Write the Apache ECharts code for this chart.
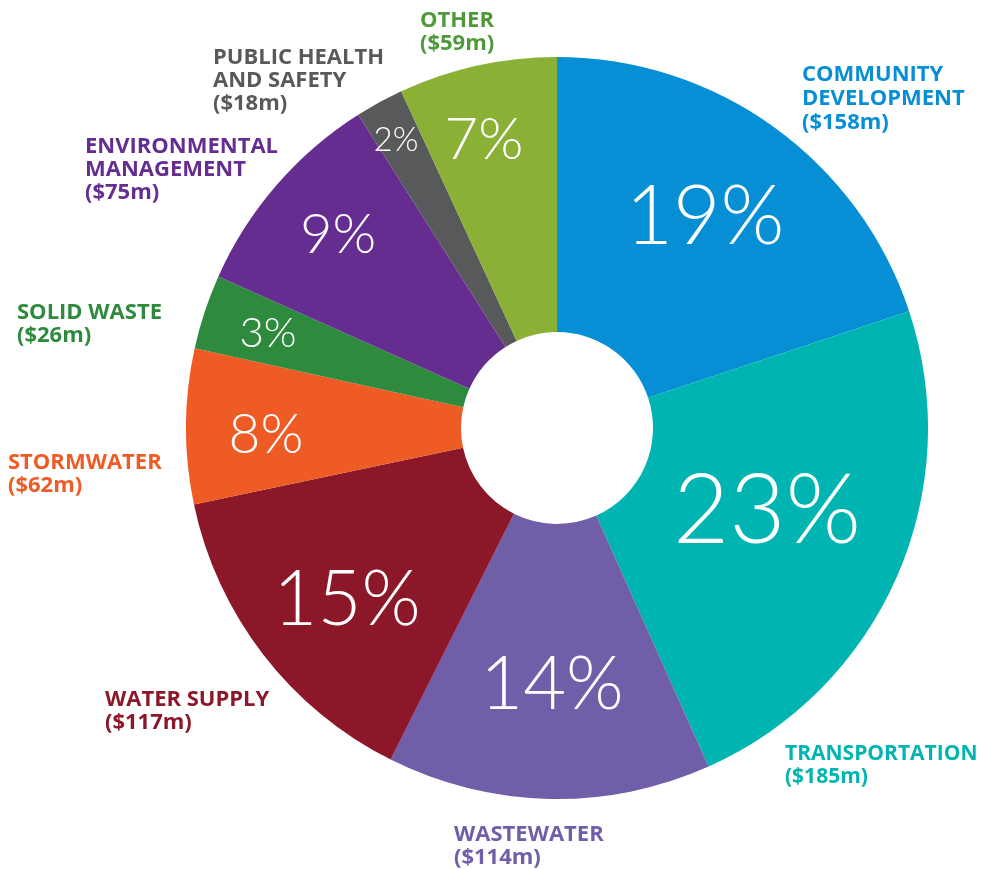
<!DOCTYPE html>
<html><head><meta charset="utf-8">
<script src="https://cdn.jsdelivr.net/npm/echarts@6/dist/echarts.min.js"></script>
<style>html,body{margin:0;padding:0;background:#fff}#c{width:984px;height:869px}</style>
</head><body><div id="c"></div>
<script>
// ---- data ----
const categories = ['Community Development','Transportation','Wastewater','Water Supply','Stormwater','Solid Waste','Environmental Management','Public Health and Safety','Other'];
const nameLabels = ['COMMUNITY\nDEVELOPMENT','TRANSPORTATION','WASTEWATER','WATER SUPPLY','STORMWATER','SOLID WASTE','ENVIRONMENTAL\nMANAGEMENT','PUBLIC HEALTH\nAND SAFETY','OTHER'];
const values = [158, 185, 114, 117, 62, 26, 75, 18, 59];            // $m, as labelled
const amountLabels = ['($158m)','($185m)','($114m)','($117m)','($62m)','($26m)','($75m)','($18m)','($59m)'];
const percentLabels = ['19%','23%','14%','15%','8%','3%','9%','2%','7%'];
// slice sizes as drawn in the picture (% of the full circle)
const drawnShares = [19.9, 23.4, 14.1, 14.3, 6.75, 3.25, 9.3, 2.1, 6.9];

// ---- styling / layout ----
const sliceColors = ['#078FD6','#00B5B1','#715EA9','#8B1729','#EE5B24','#2E8B3E','#662D91','#58595B','#8AB135'];
const textColors  = ['#078FD6','#00B5B1','#715EA9','#8B1729','#EE5B24','#2E8B3E','#662D91','#58595B','#4E9A3A'];
const pctSizes = [82, 97, 74, 76, 55, 42, 56, 33, 58];
const pctPos = [[705,218],[767,512],[552,685],[347,600],[266,435],[268,333],[338,235],[396,140],[484,140]];
const outPos = [[802,63],[785,743],[454,823],[105,688],[8,451],[17,301],[85,135],[213,46],[420,9]];
const outSize = [22,21,22,22,22,22,22,22,22];
const outLH = [24,23,23,23,23,23,23,23,23];

const chart = echarts.init(document.getElementById('c'), null, {renderer:'canvas'});
const center = [557, 428];
const radius = [96, 371];

const insideData = categories.map((c,i)=>({
  name:c, value:drawnShares[i], amount:values[i],
  itemStyle:{color:sliceColors[i]},
  label:{formatter:percentLabels[i], fontSize:pctSizes[i]}
}));
const outsideData = categories.map((c,i)=>({
  name:c, value:drawnShares[i], amount:values[i],
  itemStyle:{color:'rgba(0,0,0,0)'},
  label:{formatter:nameLabels[i]+'\n'+amountLabels[i], color:textColors[i], fontSize:outSize[i], lineHeight:outLH[i]}
}));

chart.setOption({
  animation:false,
  series:[
    {
      type:'pie', center, radius, startAngle:90, clockwise:true, silent:true,
      itemStyle:{borderWidth:0},
      label:{show:true, position:'inside', color:'#fff', fontFamily:'Lato', fontWeight:300, overflow:'none'},
      labelLine:{show:false},
      labelLayout:(p)=>({x:pctPos[p.dataIndex][0], y:pctPos[p.dataIndex][1], align:'center', verticalAlign:'middle'}),
      data:insideData
    },
    {
      type:'pie', center, radius, startAngle:90, clockwise:true, silent:true,
      itemStyle:{borderWidth:0},
      label:{show:true, position:'outside', fontFamily:'Open Sans', fontWeight:700, align:'left', overflow:'none', width:400},
      labelLine:{show:false},
      labelLayout:(p)=>({x:outPos[p.dataIndex][0], y:outPos[p.dataIndex][1], align:'left', verticalAlign:'top'}),
      data:outsideData
    }
  ]
});
</script></body></html>
